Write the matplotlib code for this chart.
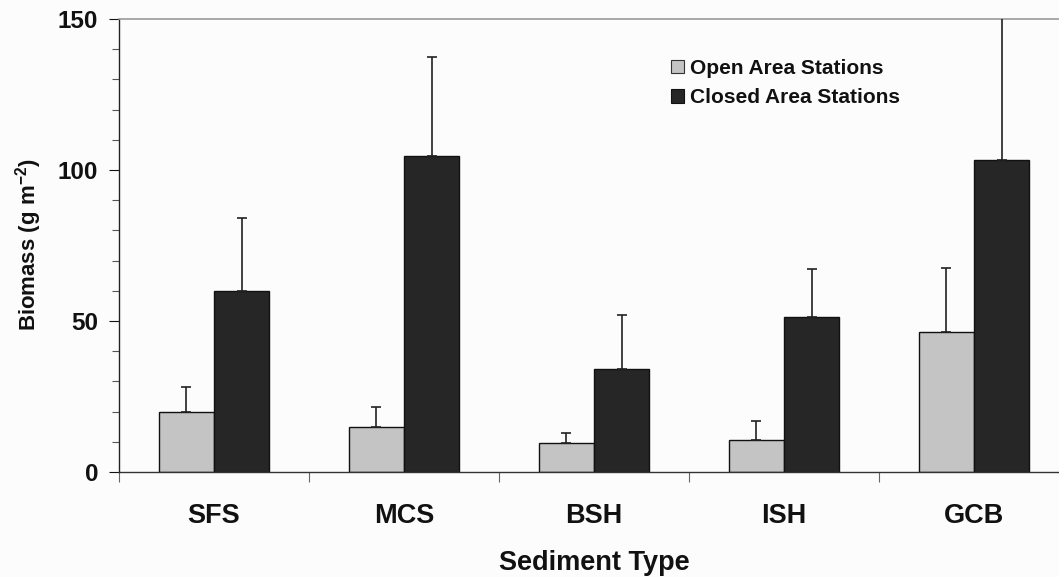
import matplotlib
matplotlib.use("Agg")
import matplotlib.pyplot as plt
from matplotlib.ticker import MultipleLocator, FixedLocator
from matplotlib.patches import Patch
import numpy as np

categories = ["SFS", "MCS", "BSH", "ISH", "GCB"]
open_mean = [20, 15, 9.5, 10.5, 46.5]
open_err = [8, 6.5, 3.5, 6.5, 21]
closed_mean = [60, 104.5, 34, 51.3, 103.3]
closed_err = [24, 33, 18, 16, 50]
series_labels = ["Open Area Stations", "Closed Area Stations"]

plt.rcParams['font.family'] = ['Liberation Sans', 'DejaVu Sans']
plt.rcParams['font.weight'] = 'bold'
plt.rcParams['mathtext.fontset'] = 'custom'
plt.rcParams['mathtext.rm'] = 'Liberation Sans:bold'
plt.rcParams['mathtext.bf'] = 'Liberation Sans:bold'
plt.rcParams['mathtext.it'] = 'Liberation Sans:bold'

W, H = 1059, 577
fig = plt.figure(figsize=(W / 100, H / 100), dpi=100, facecolor='#fcfcfc')
ax = fig.add_axes([119 / W, 1 - 472 / H, 950 / W, 453 / H])
ax.set_facecolor('#fcfcfc')

x = np.arange(len(categories))
bw = 0.29
open_color = '#c4c4c4'
closed_color = '#262626'

ax.bar(x - bw / 2, open_mean, bw, color=open_color, edgecolor='#111111', linewidth=1.0, zorder=2)
ax.bar(x + bw / 2, closed_mean, bw, color=closed_color, edgecolor='#111111', linewidth=1.0, zorder=2)
zeros = [0] * len(x)
ax.errorbar(x - bw / 2, open_mean, yerr=[zeros, open_err], fmt='none', ecolor='#222222',
            elinewidth=1.2, capsize=3.5, capthick=1.2, zorder=3)
ax.errorbar(x + bw / 2, closed_mean, yerr=[zeros, closed_err], fmt='none', ecolor='#222222',
            elinewidth=1.2, capsize=3.5, capthick=1.2, zorder=3)

ax.set_xlim(-0.5, len(categories) - 0.5)
ax.set_ylim(0, 150)

ax.yaxis.set_major_locator(MultipleLocator(50))
ax.yaxis.set_minor_locator(MultipleLocator(10))
ax.tick_params(axis='y', which='major', direction='out', length=7, width=0.8, pad=8,
               labelsize=17.5, colors='#111111')
ax.tick_params(axis='y', which='minor', direction='out', length=5, width=0.8, colors='#555555')

ax.set_xticks(x)
ax.set_xticklabels(categories)
ax.xaxis.set_minor_locator(FixedLocator(np.arange(-0.5, len(categories) + 0.5, 1)))
ax.tick_params(axis='x', which='major', length=0, pad=22, labelsize=19.5, colors='#111111')
ax.tick_params(axis='x', which='minor', direction='out', length=7, width=0.8, colors='#666666')
for lab in ax.get_xticklabels() + ax.get_yticklabels():
    lab.set_fontweight('bold')

ax.spines['top'].set_color('#9a9a9a')
ax.spines['top'].set_linewidth(1.2)
ax.spines['left'].set_color('#222222')
ax.spines['left'].set_linewidth(1.0)
ax.spines['bottom'].set_color('#333333')
ax.spines['bottom'].set_linewidth(1.0)
ax.spines['right'].set_visible(False)

fig.text(594 / W, 1 - 563 / H, "Sediment Type", ha='center', va='center',
         fontsize=19.5, fontweight='bold', color='#111111')
fig.text(29 / W, 1 - 245 / H, "Biomass (g m$^{-2}$)", ha='center', va='center',
         rotation=90, fontsize=16, fontweight='bold', color='#111111')

handles = [Patch(facecolor=open_color, edgecolor='#333333', linewidth=0.8),
           Patch(facecolor=closed_color, edgecolor='#111111', linewidth=0.8)]
leg = ax.legend(handles, series_labels, loc='upper left',
                bbox_to_anchor=((671 - 119) / 950, (472 - 59) / 453),
                frameon=False, fontsize=15, handlelength=0.62, handleheight=0.62,
                handletextpad=0.3, labelspacing=0.5, borderpad=0, borderaxespad=0)
for t in leg.get_texts():
    t.set_fontweight('bold')
    t.set_color('#111111')

fig.savefig("out.png", dpi=100, facecolor=fig.get_facecolor())
